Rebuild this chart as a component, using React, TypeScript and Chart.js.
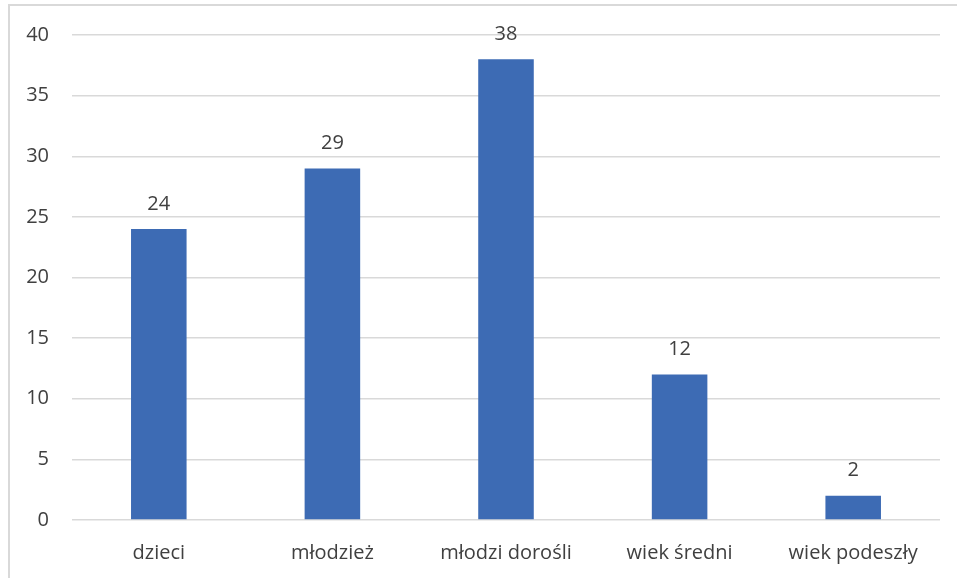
import React, { useEffect, useRef } from "react";
import { Chart, registerables } from "chart.js";

Chart.register(...registerables);

const categories = ["dzieci", "młodzież", "młodzi dorośli", "wiek średni", "wiek podeszły"];
const values = [24, 29, 38, 12, 2];
const yMin = 0;
const yMax = 40;
const yStep = 5;

const FONT = "'Open Sans', 'Noto Sans', sans-serif";

const valueLabels = {
  id: "valueLabels",
  afterDatasetsDraw(chart: any) {
    const ctx = chart.ctx;
    const meta = chart.getDatasetMeta(0);
    ctx.save();
    ctx.fillStyle = "#404040";
    ctx.font = `20px ${FONT}`;
    ctx.textAlign = "center";
    ctx.textBaseline = "middle";
    meta.data.forEach((bar: any, i: number) => {
      ctx.fillText(String(chart.data.datasets[0].data[i]), bar.x, bar.y - 25);
    });
    ctx.restore();
  },
};

const frame = {
  id: "frame",
  beforeDraw(chart: any) {
    const ctx = chart.ctx;
    ctx.save();
    ctx.strokeStyle = "#d9d9d9";
    ctx.lineWidth = 2;
    ctx.beginPath();
    ctx.moveTo(9, chart.height);
    ctx.lineTo(9, 5);
    ctx.lineTo(chart.width, 5);
    ctx.stroke();
    ctx.restore();
  },
};

export default function App() {
  const ref = useRef<HTMLCanvasElement | null>(null);
  useEffect(() => {
    if (!ref.current) return;
    const chart = new Chart(ref.current, {
      type: "bar",
      data: {
        labels: categories,
        datasets: [
          {
            data: values,
            backgroundColor: "#3D6BB4",
            categoryPercentage: 1,
            barPercentage: 0.32,
          },
        ],
      },
      options: {
        animation: false,
        responsive: false,
        maintainAspectRatio: false,
        layout: { padding: { left: 10, right: 17, top: 33, bottom: 0 } },
        plugins: { legend: { display: false }, tooltip: { enabled: false } },
        scales: {
          x: {
            grid: { display: false },
            border: { display: false },
            ticks: { color: "#404040", font: { family: FONT, size: 20 }, padding: 13, maxRotation: 0 },
            afterFit(scale: any) {
              scale.height = 58;
            },
          },
          y: {
            min: yMin,
            max: yMax,
            ticks: {
              stepSize: yStep,
              color: "#404040",
              font: { family: FONT, size: 20 },
              padding: 23,
            },
            grid: { color: "#d9d9d9", lineWidth: 1.5, drawTicks: false },
            border: { display: false },
            afterFit(scale: any) {
              scale.width = 62;
            },
          },
        },
      },
      plugins: [valueLabels, frame],
    });
    return () => chart.destroy();
  }, []);
  return (
    <div style={{ position: "fixed", left: 0, top: 0, width: 957, height: 578, background: "#fff" }}>
      <canvas ref={ref} width={957} height={578} style={{ display: "block" }} />
    </div>
  );
}
